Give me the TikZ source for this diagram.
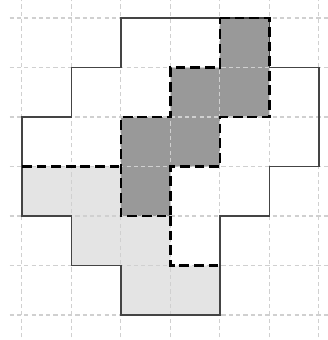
\documentclass[tikz,border=0pt]{standalone}
\usetikzlibrary{calc}
\definecolor{darkfill}{HTML}{999999}
\definecolor{lightfill}{HTML}{E4E4E4}
\definecolor{gridcol}{HTML}{D0D0D0}
\definecolor{outlinecol}{HTML}{444444}
\tikzset{
  gridline/.style={draw=gridcol, line width=0.6pt, dash pattern=on 2.4pt off 1.8pt},
  outline/.style={draw=outlinecol, line width=0.7pt},
  cutline/.style={draw=black, line width=1.4pt, dash pattern=on 5.6pt off 2.8pt},
}
\begin{document}
\begin{tikzpicture}
\useasboundingbox (-0.444,-0.505) rectangle (6.182,6.364);
\clip (-0.444,-0.505) rectangle (6.182,6.364);
% fills
\fill[lightfill] (0,2) -- (1,2) -- (1,1) -- (2,1) -- (2,0) -- (4,0) -- (4,1) -- (3,1) -- (3,2) -- (2,2) -- (2,3) -- (0,3) -- cycle;
\fill[darkfill] (4,6) -- (5,6) -- (5,4) -- (4,4) -- (4,3) -- (3,3) -- (3,2) -- (2,2) -- (2,4) -- (3,4) -- (3,5) -- (4,5) -- cycle;
% grid
\foreach \x in {0,...,6} \draw[gridline] (\x,-0.6) -- (\x,6.5);
\foreach \y in {0,...,6} \draw[gridline] (-0.25,\y) -- (6.3,\y);
% outline
\draw[outline] (2,6) -- (5,6) -- (5,5) -- (6,5) -- (6,3) -- (5,3) -- (5,2) -- (4,2) -- (4,0) -- (2,0) -- (2,1) -- (1,1) -- (1,2) -- (0,2) -- (0,4) -- (1,4) -- (1,5) -- (2,5) -- cycle;
% dashed cut lines
\draw[cutline] (4,6) -- (5,6) -- (5,4) -- (4,4) -- (4,3) -- (3,3) -- (3,2) -- (2,2) -- (2,4) -- (3,4) -- (3,5) -- (4,5) -- cycle;
\draw[cutline] (0,3) -- (2,3);
\draw[cutline] (3,2) -- (3,1) -- (4,1);
\end{tikzpicture}
\end{document}
